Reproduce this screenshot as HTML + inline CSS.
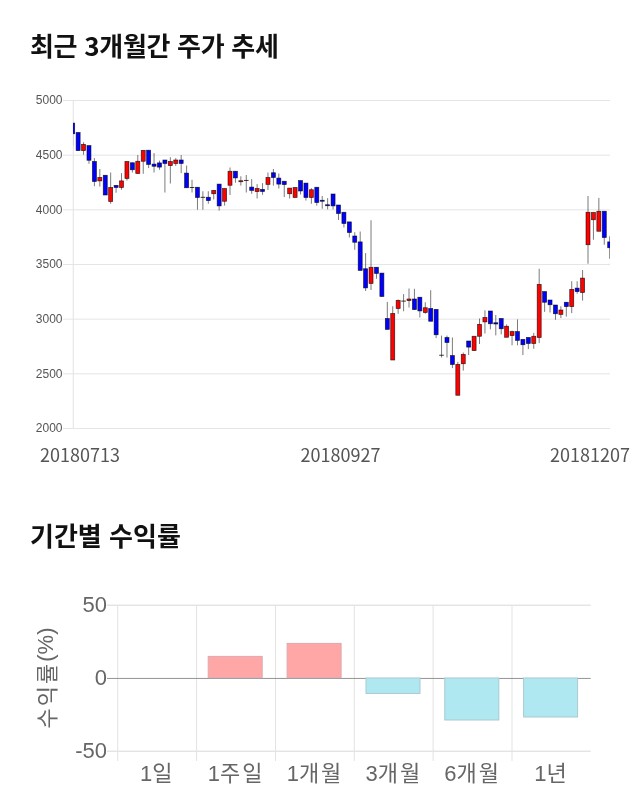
<!DOCTYPE html>
<html lang="ko">
<head>
<meta charset="utf-8">
<title>최근 3개월간 주가 추세</title>
<style>
html,body{margin:0;padding:0;background:#fff;}
body{width:640px;height:810px;position:relative;overflow:hidden;font-family:"Liberation Sans","Noto Sans CJK KR",sans-serif;}
h2{position:absolute;left:30px;margin:0;font-family:"Noto Sans CJK KR","Liberation Sans",sans-serif;font-weight:700;font-size:26px;line-height:32px;color:#111;white-space:nowrap;}
#h1{top:29px;letter-spacing:-0.3px;}
#h2{top:519px;}
svg{position:absolute;left:0;top:0;}
.ylab text{font-family:"Liberation Sans",sans-serif;font-size:12px;fill:#555;}
.xlab text{font-family:"Noto Sans CJK KR","Liberation Sans",sans-serif;font-size:18px;fill:#555;}
.b text{font-family:"Liberation Sans","Noto Sans CJK KR",sans-serif;font-size:22px;fill:#666;}
.b .k{font-family:"Noto Sans CJK KR","Liberation Sans",sans-serif;font-size:22px;letter-spacing:2px;}
</style>
</head>
<body>
<h2 id="h1">최근 3개월간 주가 추세</h2>
<h2 id="h2">기간별 수익률</h2>
<svg width="640" height="810" viewBox="0 0 640 810">
<defs><clipPath id="cp"><rect x="73" y="95" width="537" height="338"/></clipPath></defs>
<g stroke="#e5e5e5" stroke-width="1">
<line x1="63" y1="100.50" x2="610" y2="100.50"/>
<line x1="63" y1="155.17" x2="610" y2="155.17"/>
<line x1="63" y1="209.83" x2="610" y2="209.83"/>
<line x1="63" y1="264.50" x2="610" y2="264.50"/>
<line x1="63" y1="319.17" x2="610" y2="319.17"/>
<line x1="63" y1="373.84" x2="610" y2="373.84"/>
<line x1="63" y1="428.50" x2="610" y2="428.50"/>
<line x1="73.3" y1="100" x2="73.3" y2="428.5" stroke="#e6e6e6" stroke-width="1.2"/>
</g>
<g class="ylab">
<text x="62.5" y="104.20" text-anchor="end">5000</text>
<text x="62.5" y="158.87" text-anchor="end">4500</text>
<text x="62.5" y="213.53" text-anchor="end">4000</text>
<text x="62.5" y="268.20" text-anchor="end">3500</text>
<text x="62.5" y="322.87" text-anchor="end">3000</text>
<text x="62.5" y="377.54" text-anchor="end">2500</text>
<text x="62.5" y="432.20" text-anchor="end">2000</text>
</g>
<g class="xlab">
<text x="40" y="462">20180713</text>
<text x="340.5" y="462" text-anchor="middle">20180927</text>
<text x="630" y="462" text-anchor="end">20181207</text>
</g>
<g clip-path="url(#cp)" stroke="#000" stroke-opacity="0.75" stroke-width="0.7">
<line x1="72.70" y1="123.10" x2="72.70" y2="145.60"/>
<rect x="70.70" y="123.10" width="4.00" height="10.65" fill="#0000ff"/>
<line x1="78.12" y1="132.50" x2="78.12" y2="150.60"/>
<rect x="76.12" y="132.50" width="4.00" height="18.10" fill="#0000ff"/>
<line x1="83.55" y1="142.25" x2="83.55" y2="154.75"/>
<rect x="81.55" y="144.40" width="4.00" height="6.20" fill="#ff0000"/>
<line x1="88.97" y1="145.60" x2="88.97" y2="163.75"/>
<rect x="86.97" y="145.60" width="4.00" height="14.65" fill="#0000ff"/>
<line x1="94.40" y1="158.10" x2="94.40" y2="186.25"/>
<rect x="92.40" y="161.50" width="4.00" height="20.00" fill="#0000ff"/>
<line x1="99.82" y1="169.00" x2="99.82" y2="186.50"/>
<rect x="97.82" y="177.50" width="4.00" height="3.40" fill="#ff0000"/>
<line x1="105.25" y1="175.25" x2="105.25" y2="195.00"/>
<rect x="103.25" y="175.25" width="4.00" height="19.75" fill="#0000ff"/>
<line x1="110.67" y1="172.50" x2="110.67" y2="203.75"/>
<rect x="108.67" y="187.50" width="4.00" height="14.00" fill="#ff0000"/>
<line x1="116.09" y1="185.40" x2="116.09" y2="192.75"/>
<rect x="114.09" y="185.40" width="4.00" height="2.10" fill="#0000ff"/>
<line x1="121.52" y1="173.10" x2="121.52" y2="189.75"/>
<rect x="119.52" y="180.90" width="4.00" height="6.60" fill="#ff0000"/>
<line x1="126.94" y1="161.50" x2="126.94" y2="180.60"/>
<rect x="124.94" y="161.50" width="4.00" height="17.00" fill="#ff0000"/>
<line x1="132.37" y1="162.75" x2="132.37" y2="172.50"/>
<rect x="130.37" y="162.75" width="4.00" height="7.00" fill="#0000ff"/>
<line x1="137.79" y1="155.00" x2="137.79" y2="173.50"/>
<rect x="135.79" y="161.25" width="4.00" height="12.25" fill="#ff0000"/>
<line x1="143.22" y1="150.40" x2="143.22" y2="173.75"/>
<rect x="141.22" y="150.40" width="4.00" height="10.85" fill="#ff0000"/>
<line x1="148.64" y1="150.20" x2="148.64" y2="168.10"/>
<rect x="146.64" y="150.20" width="4.00" height="14.20" fill="#0000ff"/>
<line x1="154.06" y1="153.10" x2="154.06" y2="172.50"/>
<rect x="152.06" y="164.10" width="4.00" height="2.15" fill="#0000ff"/>
<line x1="159.49" y1="160.60" x2="159.49" y2="169.75"/>
<rect x="157.49" y="162.90" width="4.00" height="4.20" fill="#0000ff"/>
<line x1="164.91" y1="160.00" x2="164.91" y2="192.50"/>
<rect x="162.91" y="160.00" width="4.00" height="3.50" fill="#0000ff"/>
<line x1="170.34" y1="157.25" x2="170.34" y2="183.50"/>
<rect x="168.34" y="161.50" width="4.00" height="4.10" fill="#ff0000"/>
<line x1="175.76" y1="158.10" x2="175.76" y2="166.00"/>
<rect x="173.76" y="160.00" width="4.00" height="3.50" fill="#ff0000"/>
<line x1="181.18" y1="155.00" x2="181.18" y2="173.10"/>
<rect x="179.18" y="160.00" width="4.00" height="3.50" fill="#0000ff"/>
<line x1="186.61" y1="165.60" x2="186.61" y2="187.75"/>
<rect x="184.61" y="173.10" width="4.00" height="14.65" fill="#0000ff"/>
<line x1="192.03" y1="179.75" x2="192.03" y2="192.50"/>
<rect x="189.73" y="187.00" width="4.60" height="1" fill="#1a0000" fill-opacity="0.8" stroke="none"/>
<line x1="197.46" y1="187.25" x2="197.46" y2="209.75"/>
<rect x="195.46" y="187.25" width="4.00" height="10.25" fill="#0000ff"/>
<line x1="202.88" y1="191.25" x2="202.88" y2="209.75"/>
<rect x="200.58" y="196.82" width="4.60" height="1" fill="#1a0000" fill-opacity="0.8" stroke="none"/>
<line x1="208.31" y1="191.25" x2="208.31" y2="203.75"/>
<rect x="206.31" y="197.25" width="4.00" height="3.35" fill="#0000ff"/>
<line x1="213.73" y1="190.40" x2="213.73" y2="199.40"/>
<rect x="211.73" y="190.40" width="4.00" height="3.35" fill="#ff0000"/>
<line x1="219.15" y1="184.10" x2="219.15" y2="210.60"/>
<rect x="217.15" y="184.10" width="4.00" height="21.80" fill="#0000ff"/>
<line x1="224.58" y1="188.50" x2="224.58" y2="205.60"/>
<rect x="222.58" y="188.50" width="4.00" height="12.75" fill="#ff0000"/>
<line x1="230.00" y1="167.50" x2="230.00" y2="195.00"/>
<rect x="228.00" y="171.25" width="4.00" height="14.00" fill="#ff0000"/>
<line x1="235.43" y1="171.25" x2="235.43" y2="182.75"/>
<rect x="233.43" y="171.25" width="4.00" height="6.65" fill="#0000ff"/>
<line x1="240.85" y1="176.25" x2="240.85" y2="185.60"/>
<rect x="238.85" y="180.75" width="4.00" height="1.00" fill="#ff0000"/>
<line x1="246.28" y1="175.00" x2="246.28" y2="192.50"/>
<rect x="243.98" y="179.95" width="4.60" height="1" fill="#1a0000" fill-opacity="0.8" stroke="none"/>
<line x1="251.70" y1="179.10" x2="251.70" y2="193.75"/>
<rect x="249.70" y="187.10" width="4.00" height="3.30" fill="#0000ff"/>
<line x1="257.12" y1="184.10" x2="257.12" y2="198.50"/>
<rect x="255.12" y="188.50" width="4.00" height="3.10" fill="#ff0000"/>
<line x1="262.55" y1="183.10" x2="262.55" y2="194.75"/>
<rect x="260.55" y="189.40" width="4.00" height="2.10" fill="#0000ff"/>
<line x1="267.97" y1="172.50" x2="267.97" y2="190.00"/>
<rect x="265.97" y="177.50" width="4.00" height="6.90" fill="#ff0000"/>
<line x1="273.40" y1="169.00" x2="273.40" y2="185.60"/>
<rect x="271.40" y="172.75" width="4.00" height="4.75" fill="#0000ff"/>
<line x1="278.82" y1="173.50" x2="278.82" y2="188.50"/>
<rect x="276.82" y="178.10" width="4.00" height="6.00" fill="#0000ff"/>
<line x1="284.25" y1="181.25" x2="284.25" y2="197.10"/>
<rect x="282.25" y="181.25" width="4.00" height="3.35" fill="#0000ff"/>
<line x1="289.67" y1="188.10" x2="289.67" y2="198.50"/>
<rect x="287.67" y="188.10" width="4.00" height="5.65" fill="#ff0000"/>
<line x1="295.09" y1="187.50" x2="295.09" y2="197.50"/>
<rect x="293.09" y="187.50" width="4.00" height="10.00" fill="#ff0000"/>
<line x1="300.52" y1="180.60" x2="300.52" y2="194.40"/>
<rect x="298.52" y="180.60" width="4.00" height="10.40" fill="#0000ff"/>
<line x1="305.94" y1="183.10" x2="305.94" y2="200.60"/>
<rect x="303.94" y="183.10" width="4.00" height="14.40" fill="#0000ff"/>
<line x1="311.37" y1="188.10" x2="311.37" y2="203.75"/>
<rect x="309.37" y="189.75" width="4.00" height="7.75" fill="#ff0000"/>
<line x1="316.79" y1="187.25" x2="316.79" y2="205.60"/>
<rect x="314.79" y="187.25" width="4.00" height="15.25" fill="#0000ff"/>
<line x1="322.22" y1="196.00" x2="322.22" y2="208.75"/>
<rect x="320.22" y="200.25" width="4.00" height="1.00" fill="#0000ff"/>
<line x1="327.64" y1="198.10" x2="327.64" y2="209.40"/>
<rect x="325.64" y="204.75" width="4.00" height="1.00" fill="#0000ff"/>
<line x1="333.06" y1="194.00" x2="333.06" y2="209.40"/>
<rect x="331.06" y="194.00" width="4.00" height="11.90" fill="#0000ff"/>
<line x1="338.49" y1="205.00" x2="338.49" y2="220.00"/>
<rect x="336.49" y="205.00" width="4.00" height="8.50" fill="#0000ff"/>
<line x1="343.91" y1="212.25" x2="343.91" y2="227.50"/>
<rect x="341.91" y="212.25" width="4.00" height="11.25" fill="#0000ff"/>
<line x1="349.34" y1="221.90" x2="349.34" y2="237.50"/>
<rect x="347.34" y="221.90" width="4.00" height="10.60" fill="#0000ff"/>
<line x1="354.76" y1="232.25" x2="354.76" y2="249.75"/>
<rect x="352.76" y="236.00" width="4.00" height="6.25" fill="#0000ff"/>
<line x1="360.18" y1="231.50" x2="360.18" y2="270.40"/>
<rect x="358.18" y="241.90" width="4.00" height="28.50" fill="#0000ff"/>
<line x1="365.61" y1="253.10" x2="365.61" y2="291.00"/>
<rect x="363.61" y="268.75" width="4.00" height="19.15" fill="#0000ff"/>
<line x1="371.03" y1="220.25" x2="371.03" y2="290.00"/>
<rect x="369.03" y="267.25" width="4.00" height="16.25" fill="#ff0000"/>
<line x1="376.46" y1="267.25" x2="376.46" y2="278.75"/>
<rect x="374.46" y="267.25" width="4.00" height="6.15" fill="#0000ff"/>
<line x1="381.88" y1="273.10" x2="381.88" y2="296.50"/>
<rect x="379.88" y="273.10" width="4.00" height="23.40" fill="#0000ff"/>
<line x1="387.31" y1="301.90" x2="387.31" y2="329.40"/>
<rect x="385.31" y="318.50" width="4.00" height="10.90" fill="#0000ff"/>
<line x1="392.73" y1="306.25" x2="392.73" y2="360.00"/>
<rect x="390.73" y="313.50" width="4.00" height="46.50" fill="#ff0000"/>
<line x1="398.15" y1="299.40" x2="398.15" y2="313.75"/>
<rect x="396.15" y="300.40" width="4.00" height="8.10" fill="#ff0000"/>
<line x1="403.58" y1="294.10" x2="403.58" y2="311.25"/>
<rect x="401.28" y="300.60" width="4.60" height="1" fill="#1a0000" fill-opacity="0.8" stroke="none"/>
<line x1="409.00" y1="288.50" x2="409.00" y2="307.50"/>
<rect x="407.00" y="299.00" width="4.00" height="1.60" fill="#ff0000"/>
<line x1="414.43" y1="288.75" x2="414.43" y2="309.60"/>
<rect x="412.43" y="299.00" width="4.00" height="10.60" fill="#0000ff"/>
<line x1="419.85" y1="297.25" x2="419.85" y2="317.50"/>
<rect x="417.85" y="297.25" width="4.00" height="13.65" fill="#0000ff"/>
<line x1="425.28" y1="302.25" x2="425.28" y2="313.75"/>
<rect x="423.28" y="307.75" width="4.00" height="4.75" fill="#ff0000"/>
<line x1="430.70" y1="290.25" x2="430.70" y2="321.25"/>
<rect x="428.70" y="308.50" width="4.00" height="12.75" fill="#0000ff"/>
<line x1="436.12" y1="309.40" x2="436.12" y2="338.10"/>
<rect x="434.12" y="309.40" width="4.00" height="25.35" fill="#0000ff"/>
<line x1="441.55" y1="335.60" x2="441.55" y2="357.50"/>
<rect x="439.25" y="354.75" width="4.60" height="1" fill="#1a0000" fill-opacity="0.8" stroke="none"/>
<line x1="446.97" y1="335.60" x2="446.97" y2="357.50"/>
<rect x="444.97" y="337.50" width="4.00" height="5.00" fill="#0000ff"/>
<line x1="452.40" y1="337.50" x2="452.40" y2="368.10"/>
<rect x="450.40" y="355.60" width="4.00" height="8.90" fill="#0000ff"/>
<line x1="457.82" y1="361.90" x2="457.82" y2="395.25"/>
<rect x="455.82" y="364.40" width="4.00" height="30.85" fill="#ff0000"/>
<line x1="463.25" y1="352.50" x2="463.25" y2="370.60"/>
<rect x="461.25" y="354.40" width="4.00" height="9.35" fill="#ff0000"/>
<line x1="468.67" y1="341.00" x2="468.67" y2="355.00"/>
<rect x="466.67" y="341.00" width="4.00" height="6.10" fill="#0000ff"/>
<line x1="474.09" y1="336.25" x2="474.09" y2="350.60"/>
<rect x="472.09" y="336.25" width="4.00" height="14.35" fill="#ff0000"/>
<line x1="479.52" y1="318.50" x2="479.52" y2="344.00"/>
<rect x="477.52" y="324.40" width="4.00" height="11.85" fill="#ff0000"/>
<line x1="484.94" y1="310.25" x2="484.94" y2="333.50"/>
<rect x="482.94" y="317.50" width="4.00" height="4.40" fill="#ff0000"/>
<line x1="490.37" y1="311.00" x2="490.37" y2="329.40"/>
<rect x="488.37" y="311.00" width="4.00" height="12.75" fill="#0000ff"/>
<line x1="495.79" y1="315.00" x2="495.79" y2="335.40"/>
<rect x="493.79" y="322.75" width="4.00" height="1.25" fill="#0000ff"/>
<line x1="501.22" y1="318.50" x2="501.22" y2="334.40"/>
<rect x="499.22" y="318.50" width="4.00" height="10.25" fill="#0000ff"/>
<line x1="506.64" y1="324.40" x2="506.64" y2="337.25"/>
<rect x="504.64" y="326.25" width="4.00" height="11.00" fill="#ff0000"/>
<line x1="512.06" y1="330.60" x2="512.06" y2="345.25"/>
<rect x="510.06" y="331.60" width="4.00" height="4.00" fill="#ff0000"/>
<line x1="517.49" y1="319.40" x2="517.49" y2="345.25"/>
<rect x="515.49" y="331.60" width="4.00" height="8.80" fill="#0000ff"/>
<line x1="522.91" y1="339.40" x2="522.91" y2="355.00"/>
<rect x="520.91" y="339.40" width="4.00" height="5.35" fill="#0000ff"/>
<line x1="528.34" y1="337.50" x2="528.34" y2="349.10"/>
<rect x="526.34" y="337.50" width="4.00" height="6.00" fill="#0000ff"/>
<line x1="533.76" y1="332.90" x2="533.76" y2="348.75"/>
<rect x="531.76" y="336.25" width="4.00" height="7.25" fill="#ff0000"/>
<line x1="539.18" y1="268.75" x2="539.18" y2="343.10"/>
<rect x="537.18" y="284.40" width="4.00" height="53.10" fill="#ff0000"/>
<line x1="544.61" y1="291.60" x2="544.61" y2="311.90"/>
<rect x="542.61" y="291.60" width="4.00" height="10.65" fill="#0000ff"/>
<line x1="550.03" y1="300.00" x2="550.03" y2="312.50"/>
<rect x="548.03" y="300.00" width="4.00" height="4.75" fill="#0000ff"/>
<line x1="555.46" y1="305.00" x2="555.46" y2="319.75"/>
<rect x="553.46" y="305.00" width="4.00" height="8.75" fill="#0000ff"/>
<line x1="560.88" y1="306.25" x2="560.88" y2="318.10"/>
<rect x="558.88" y="310.00" width="4.00" height="4.40" fill="#ff0000"/>
<line x1="566.31" y1="302.25" x2="566.31" y2="316.60"/>
<rect x="564.31" y="302.25" width="4.00" height="4.35" fill="#0000ff"/>
<line x1="571.73" y1="281.25" x2="571.73" y2="313.10"/>
<rect x="569.73" y="289.40" width="4.00" height="17.20" fill="#ff0000"/>
<line x1="577.15" y1="281.25" x2="577.15" y2="293.75"/>
<rect x="575.15" y="288.10" width="4.00" height="3.50" fill="#0000ff"/>
<line x1="582.58" y1="270.00" x2="582.58" y2="300.60"/>
<rect x="580.58" y="278.10" width="4.00" height="14.40" fill="#ff0000"/>
<line x1="588.00" y1="196.00" x2="588.00" y2="263.75"/>
<rect x="586.00" y="212.25" width="4.00" height="32.50" fill="#ff0000"/>
<line x1="593.43" y1="212.50" x2="593.43" y2="239.75"/>
<rect x="591.43" y="212.50" width="4.00" height="7.25" fill="#ff0000"/>
<line x1="598.85" y1="197.90" x2="598.85" y2="231.25"/>
<rect x="596.85" y="211.25" width="4.00" height="20.00" fill="#ff0000"/>
<line x1="604.28" y1="211.25" x2="604.28" y2="244.75"/>
<rect x="602.28" y="211.25" width="4.00" height="26.25" fill="#0000ff"/>
<line x1="609.70" y1="236.25" x2="609.70" y2="258.75"/>
<rect x="607.70" y="241.90" width="4.00" height="5.85" fill="#0000ff"/>
</g>

<!-- bar chart -->
<g stroke="#e3e3e3" stroke-width="1">
<line x1="107" y1="605.2" x2="590.7" y2="605.2" stroke="#d8d8d8"/>
<line x1="107" y1="751.2" x2="590.7" y2="751.2" stroke="#d8d8d8"/>
<line x1="117.7" y1="605" x2="117.7" y2="761"/>
<line x1="196.6" y1="605" x2="196.6" y2="761"/>
<line x1="275.5" y1="605" x2="275.5" y2="761"/>
<line x1="354.3" y1="605" x2="354.3" y2="761"/>
<line x1="433.1" y1="605" x2="433.1" y2="761"/>
<line x1="512.0" y1="605" x2="512.0" y2="761"/>
</g>
<line x1="107" y1="678.45" x2="590.7" y2="678.45" stroke="#888" stroke-width="0.9"/>
<g stroke-width="1">
<rect x="208.2" y="656.4" width="54" height="21.3" fill="#ffa6a6" stroke="#dcaaae"/>
<rect x="287.1" y="643.4" width="54" height="34.3" fill="#ffa6a6" stroke="#dcaaae"/>
<rect x="366.0" y="678" width="54" height="15.4" fill="#b0e8f2" stroke="#a9c9cf"/>
<rect x="444.8" y="678" width="54" height="42" fill="#b0e8f2" stroke="#a9c9cf"/>
<rect x="523.6" y="678" width="54" height="39" fill="#b0e8f2" stroke="#a9c9cf"/>
</g>
<g class="b">
<text x="107" y="611.7" text-anchor="end">50</text>
<text x="107" y="684.7" text-anchor="end">0</text>
<text x="107" y="757.5" text-anchor="end">-50</text>
<text x="157.2" y="780.7" text-anchor="middle">1<tspan class="k">일</tspan></text>
<text x="236.2" y="780.7" text-anchor="middle">1<tspan class="k">주일</tspan></text>
<text x="315.0" y="780.7" text-anchor="middle">1<tspan class="k">개월</tspan></text>
<text x="393.8" y="780.7" text-anchor="middle">3<tspan class="k">개월</tspan></text>
<text x="472.6" y="780.7" text-anchor="middle">6<tspan class="k">개월</tspan></text>
<text x="551.4" y="780.7" text-anchor="middle">1<tspan class="k">년</tspan></text>
<text transform="translate(54.8,678) rotate(-90)" text-anchor="middle"><tspan class="k">수익률</tspan><tspan dy="-1.8">(%)</tspan></text>
</g>
</svg>
</body>
</html>
